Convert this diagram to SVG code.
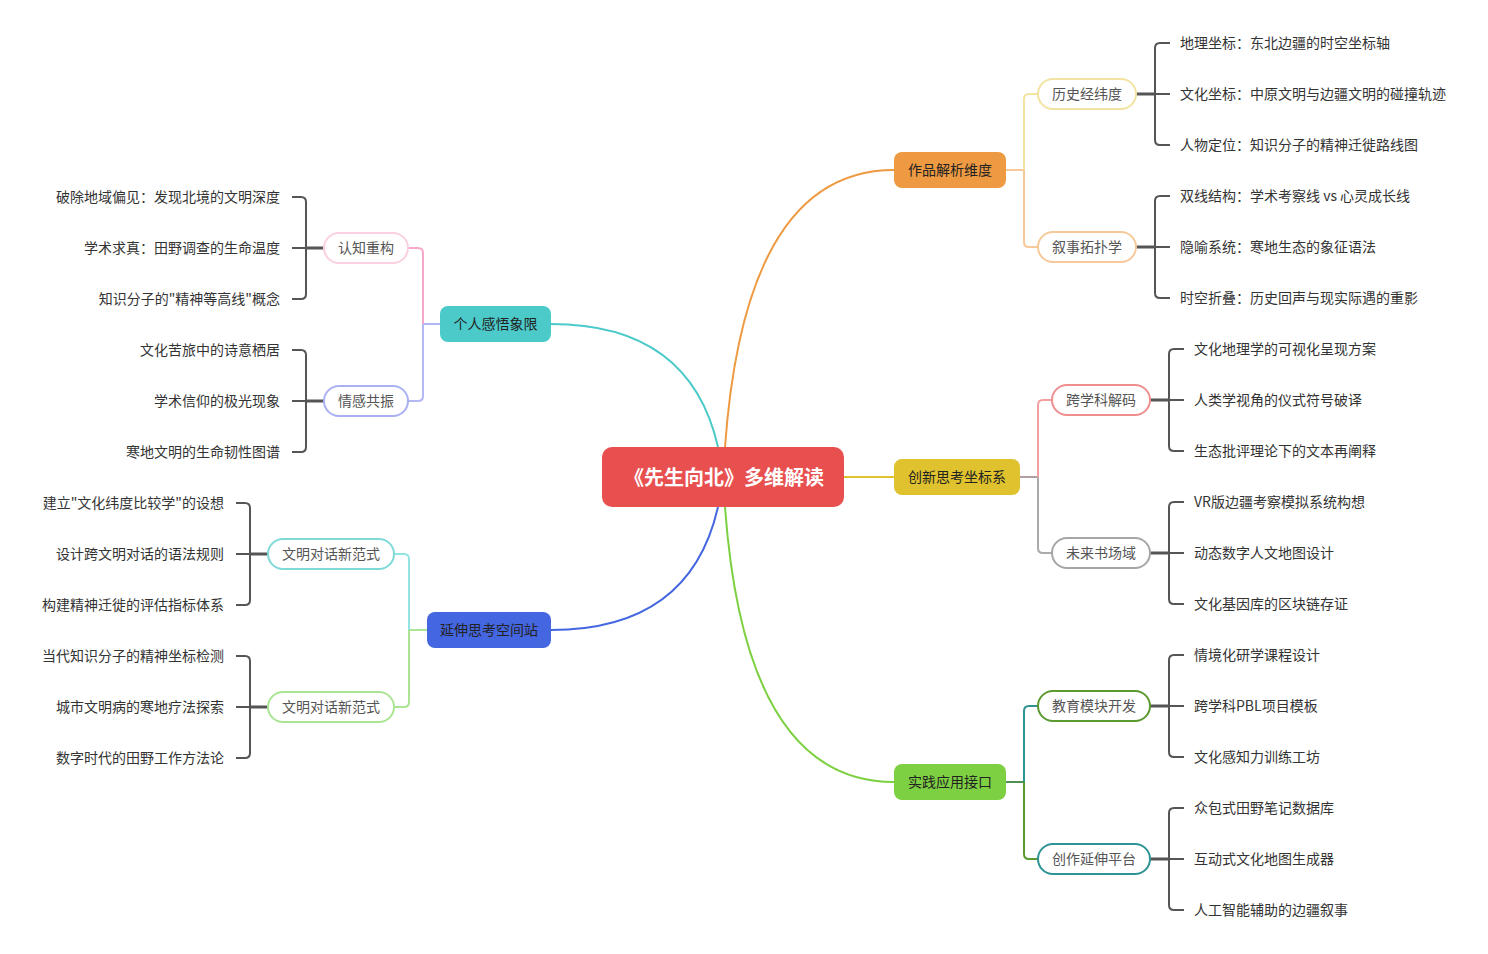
<svg xmlns="http://www.w3.org/2000/svg" width="1488" height="954" viewBox="0 0 1488 954">
<style>
text{font-family:"Noto Sans CJK SC","Noto Sans",sans-serif;dominant-baseline:central}
.root{font-size:20px;font-weight:bold;fill:#fff}
.main{font-size:14px;fill:#222}
.sub{font-size:14px;fill:#555}
.leaf{font-size:14px;fill:#333}
.pill{fill:#fff;stroke-width:2}
.br{fill:none;stroke:#555;stroke-width:2}
.stub{fill:none;stroke:#555;stroke-width:3}
.c{fill:none;stroke-width:2}
.e{fill:none;stroke-width:2}
</style>
<rect width="1488" height="954" fill="#fff"/>
<g id="connectors">
<path class="c" d="M725 447 Q745 170 894 170" stroke="#EE9A42"/>
<path class="c" d="M718 447 Q690 324 551 324" stroke="#4CCACA"/>
<path class="c" d="M718 507 Q690 630 551 630" stroke="#4466E0"/>
<path class="c" d="M725 507 Q745 782 894 782" stroke="#7ED043"/>
<path class="c" d="M844 477 H894" stroke="#E0C22E"/>
<path class="e" d="M1006 170 H1024" stroke="#F7C899"/>
<path class="e" d="M1024 170 V99 Q1024 94 1029 94 H1038" stroke="#F3E3A2"/>
<path class="e" d="M1024 170 V242 Q1024 247 1029 247 H1038" stroke="#F7C899"/>
<path class="e" d="M1020 477 H1038" stroke="#B3A0A0"/>
<path class="e" d="M1038 477 V405 Q1038 400 1043 400 H1052" stroke="#F2A0A0"/>
<path class="e" d="M1038 477 V548 Q1038 553 1043 553 H1052" stroke="#AAAAAA"/>
<path class="e" d="M1006 782 H1024" stroke="#4E9050"/>
<path class="e" d="M1024 782 V711 Q1024 706 1029 706 H1038" stroke="#2E9393"/>
<path class="e" d="M1024 782 V854 Q1024 859 1029 859 H1038" stroke="#5B9A2E"/>
<path class="e" d="M440 324 H423" stroke="#B3B8F5"/>
<path class="e" d="M423 324 V253 Q423 248 418 248 H408" stroke="#F5A8CB"/>
<path class="e" d="M423 324 V396 Q423 401 418 401 H408" stroke="#B3B8F5"/>
<path class="e" d="M427 630 H409" stroke="#ABE594"/>
<path class="e" d="M409 630 V559 Q409 554 404 554 H394" stroke="#93E3E3"/>
<path class="e" d="M409 630 V702 Q409 707 404 707 H394" stroke="#ABE594"/>
<path class="stub" d="M1136 94 H1155"/>
<path class="br" d="M1170 43 H1160 Q1155 43 1155 48 V140 Q1155 145 1160 145 H1170 M1155 94 H1170"/>
<path class="stub" d="M1136 247 H1155"/>
<path class="br" d="M1170 196 H1160 Q1155 196 1155 201 V293 Q1155 298 1160 298 H1170 M1155 247 H1170"/>
<path class="stub" d="M1150 400 H1169"/>
<path class="br" d="M1184 349 H1174 Q1169 349 1169 354 V446 Q1169 451 1174 451 H1184 M1169 400 H1184"/>
<path class="stub" d="M1150 553 H1169"/>
<path class="br" d="M1184 502 H1174 Q1169 502 1169 507 V599 Q1169 604 1174 604 H1184 M1169 553 H1184"/>
<path class="stub" d="M1150 706 H1169"/>
<path class="br" d="M1184 655 H1174 Q1169 655 1169 660 V752 Q1169 757 1174 757 H1184 M1169 706 H1184"/>
<path class="stub" d="M1150 859 H1169"/>
<path class="br" d="M1184 808 H1174 Q1169 808 1169 813 V905 Q1169 910 1174 910 H1184 M1169 859 H1184"/>
<path class="stub" d="M324 248 H306"/>
<path class="br" d="M292 197 H301 Q306 197 306 202 V294 Q306 299 301 299 H292 M306 248 H292"/>
<path class="stub" d="M324 401 H306"/>
<path class="br" d="M292 350 H301 Q306 350 306 355 V447 Q306 452 301 452 H292 M306 401 H292"/>
<path class="stub" d="M268 554 H250"/>
<path class="br" d="M236 503 H245 Q250 503 250 508 V600 Q250 605 245 605 H236 M250 554 H236"/>
<path class="stub" d="M268 707 H250"/>
<path class="br" d="M236 656 H245 Q250 656 250 661 V753 Q250 758 245 758 H236 M250 707 H236"/>
</g>
<g id="root">
<rect x="602" y="447" width="242" height="60" rx="10" fill="#E85050"/>
<text class="root" x="724" y="476" text-anchor="middle">《先生向北》多维解读</text>
</g>
<g id="n-zuopin">
<rect x="894" y="152" width="112" height="36" rx="8" fill="#EE9A42"/>
<text class="main" x="950" y="169" text-anchor="middle">作品解析维度</text>
</g>
<g id="n-chuangxin">
<rect x="894" y="459" width="126" height="36" rx="8" fill="#E0C22E"/>
<text class="main" x="957" y="476" text-anchor="middle">创新思考坐标系</text>
</g>
<g id="n-shijian">
<rect x="894" y="764" width="112" height="36" rx="8" fill="#7ED043"/>
<text class="main" x="950" y="781" text-anchor="middle">实践应用接口</text>
</g>
<g id="n-geren">
<rect x="440" y="306" width="111" height="36" rx="8" fill="#4CCACA"/>
<text class="main" x="495.5" y="323" text-anchor="middle">个人感悟象限</text>
</g>
<g id="n-yanshen">
<rect x="427" y="612" width="124" height="36" rx="8" fill="#4466E0"/>
<text class="main" x="489" y="629" text-anchor="middle">延伸思考空间站</text>
</g>
<g id="n-lishi">
<rect class="pill" x="1038" y="79" width="98" height="30" rx="15" stroke="#F3E3A2"/>
<text class="sub" x="1087" y="93" text-anchor="middle">历史经纬度</text>
</g>
<g id="n-xushi">
<rect class="pill" x="1038" y="232" width="98" height="30" rx="15" stroke="#F7C899"/>
<text class="sub" x="1087" y="246" text-anchor="middle">叙事拓扑学</text>
</g>
<g id="n-kuaxueke">
<rect class="pill" x="1052" y="385" width="98" height="30" rx="15" stroke="#EF8E8E"/>
<text class="sub" x="1101" y="399" text-anchor="middle">跨学科解码</text>
</g>
<g id="n-weilai">
<rect class="pill" x="1052" y="538" width="98" height="30" rx="15" stroke="#A6A6A6"/>
<text class="sub" x="1101" y="552" text-anchor="middle">未来书场域</text>
</g>
<g id="n-jiaoyu">
<rect class="pill" x="1038" y="691" width="112" height="30" rx="15" stroke="#5B9A2E"/>
<text class="sub" x="1094" y="705" text-anchor="middle">教育模块开发</text>
</g>
<g id="n-chuangzuo">
<rect class="pill" x="1038" y="844" width="112" height="30" rx="15" stroke="#2E9393"/>
<text class="sub" x="1094" y="858" text-anchor="middle">创作延伸平台</text>
</g>
<g id="n-renzhi">
<rect class="pill" x="324" y="233" width="84" height="30" rx="15" stroke="#FAD0E2"/>
<text class="sub" x="366" y="247" text-anchor="middle">认知重构</text>
</g>
<g id="n-qinggan">
<rect class="pill" x="324" y="386" width="84" height="30" rx="15" stroke="#A9B1F2"/>
<text class="sub" x="366" y="400" text-anchor="middle">情感共振</text>
</g>
<g id="n-wenming1">
<rect class="pill" x="268" y="539" width="126" height="30" rx="15" stroke="#7FD9D9"/>
<text class="sub" x="331" y="553" text-anchor="middle">文明对话新范式</text>
</g>
<g id="n-wenming2">
<rect class="pill" x="268" y="692" width="126" height="30" rx="15" stroke="#ABE594"/>
<text class="sub" x="331" y="706" text-anchor="middle">文明对话新范式</text>
</g>
<g id="leaves-right" transform="translate(0,-1)">
<text class="leaf" x="1180" y="43">地理坐标：东北边疆的时空坐标轴</text>
<text class="leaf" x="1180" y="94">文化坐标：中原文明与边疆文明的碰撞轨迹</text>
<text class="leaf" x="1180" y="145">人物定位：知识分子的精神迁徙路线图</text>
<text class="leaf" x="1180" y="196">双线结构：学术考察线 vs 心灵成长线</text>
<text class="leaf" x="1180" y="247">隐喻系统：寒地生态的象征语法</text>
<text class="leaf" x="1180" y="298">时空折叠：历史回声与现实际遇的重影</text>
<text class="leaf" x="1194" y="349">文化地理学的可视化呈现方案</text>
<text class="leaf" x="1194" y="400">人类学视角的仪式符号破译</text>
<text class="leaf" x="1194" y="451">生态批评理论下的文本再阐释</text>
<text class="leaf" x="1194" y="502">VR版边疆考察模拟系统构想</text>
<text class="leaf" x="1194" y="553">动态数字人文地图设计</text>
<text class="leaf" x="1194" y="604">文化基因库的区块链存证</text>
<text class="leaf" x="1194" y="655">情境化研学课程设计</text>
<text class="leaf" x="1194" y="706">跨学科PBL项目模板</text>
<text class="leaf" x="1194" y="757">文化感知力训练工坊</text>
<text class="leaf" x="1194" y="808">众包式田野笔记数据库</text>
<text class="leaf" x="1194" y="859">互动式文化地图生成器</text>
<text class="leaf" x="1194" y="910">人工智能辅助的边疆叙事</text>
</g>
<g id="leaves-left" text-anchor="end" transform="translate(0,-1)">
<text class="leaf" x="280" y="197">破除地域偏见：发现北境的文明深度</text>
<text class="leaf" x="280" y="248">学术求真：田野调查的生命温度</text>
<text class="leaf" x="280" y="299">知识分子的"精神等高线"概念</text>
<text class="leaf" x="280" y="350">文化苦旅中的诗意栖居</text>
<text class="leaf" x="280" y="401">学术信仰的极光现象</text>
<text class="leaf" x="280" y="452">寒地文明的生命韧性图谱</text>
<text class="leaf" x="224" y="503">建立"文化纬度比较学"的设想</text>
<text class="leaf" x="224" y="554">设计跨文明对话的语法规则</text>
<text class="leaf" x="224" y="605">构建精神迁徙的评估指标体系</text>
<text class="leaf" x="224" y="656">当代知识分子的精神坐标检测</text>
<text class="leaf" x="224" y="707">城市文明病的寒地疗法探索</text>
<text class="leaf" x="224" y="758">数字时代的田野工作方法论</text>
</g>
</svg>
